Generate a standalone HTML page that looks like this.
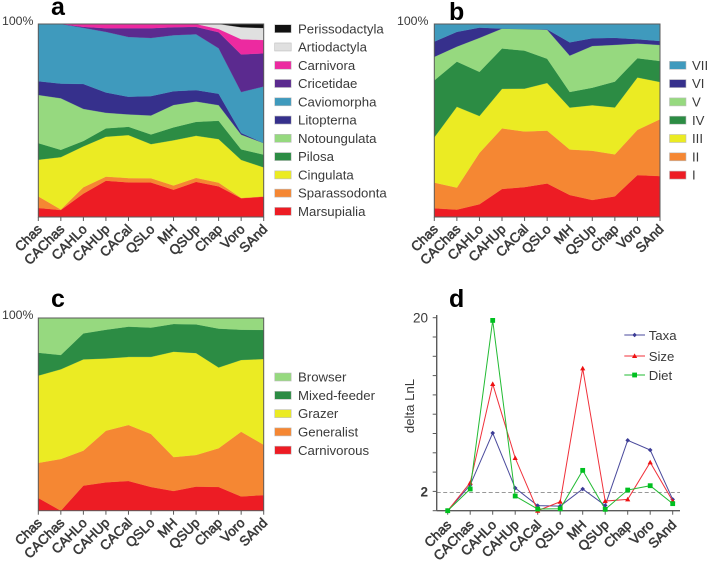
<!DOCTYPE html>
<html lang="en">
<head>
<meta charset="utf-8">
<title>Stacked composition charts and delta LnL</title>
<style>
html,body{margin:0;padding:0;background:#fff;}
body{width:708px;height:562px;overflow:hidden;}
svg{display:block;font-family:"Liberation Sans",sans-serif;}
</style>
</head>
<body>
<svg id="figure" width="708" height="562" viewBox="0 0 708 562" xmlns="http://www.w3.org/2000/svg"></svg>
<script>
const categories = ['Chas','CAChas','CAHLo','CAHUp','CACal','QSLo','MH','QSUp','Chap','Voro','SAnd'];

/* Panel a: taxonomic composition, percent per layer, bottom to top */
const aMarsupialia    = [4.7,3.6,12.1,18.8,17.9,17.8,14.1,18.1,15.9,9.7,10.5];
const aSparassodonta  = [6.0,0.3,3.3,2.1,2.2,2.2,2.2,2.1,1.9,0.2,0.2];
const aCingulata      = [19.0,27.1,21.2,20.7,22.2,17.6,23.4,21.7,22.6,19.7,15.0];
const aPilosa         = [8.6,3.8,2.8,4.3,4.3,5.0,6.7,7.2,9.5,5.5,6.6];
const aNotoungulata   = [25.0,26.7,16.6,8.1,6.4,9.8,11.6,10.5,8.1,7.6,6.0];
const aLitopterna     = [7.1,7.6,12.9,10.5,9.1,10.0,7.1,5.9,5.9,0.9,0];
const aCaviomorpha    = [29.7,30.9,29.1,31.4,30.9,30.0,29.0,28.8,23.6,21.2,29.3];
const aCricetidae     = [0,0,0.5,1.9,4.5,5.0,4.1,3.8,8.3,19.5,17.2];
const aCarnivora      = [0,0,1.5,2.2,2.2,2.2,1.7,1.5,1.7,7.9,6.9];
const aArtiodactyla   = [0,0,0,0,0,0,0,0,2.6,6.2,6.2];
const aPerissodactyla = [0,0,0,0,0,0,0,0,0,1.7,2.1];

/* Panel b: size classes, percent per layer, bottom to top */
const bI   = [4.5,3.8,6.6,14.5,15.5,17.4,11.4,8.8,10.7,21.7,21.2];
const bII  = [13.3,11.4,26.6,31.4,28.8,27.4,23.6,25.5,21.7,23.4,29.5];
const bIII = [23.4,41.9,19.1,20.5,22.2,24.7,21.7,23.6,24.3,27.1,19.3];
const bIV  = [29.5,23.4,22.9,20.9,19.7,12.6,8.1,9.1,13.4,10.0,10.9];
const bV   = [12.2,7.8,17.6,10.3,11.2,15.0,18.8,21.6,19.0,7.6,8.3];
const bVI  = [7.9,7.6,5.3,0,0,0.2,6.9,4.0,3.6,2.2,2.1];
const bVII = [9.1,4.1,1.9,2.4,2.6,2.8,9.5,7.4,7.2,7.9,8.8];

/* Panel c: diet categories, percent per layer, bottom to top */
const cCarnivorous = [6.6,0,13.0,14.7,15.4,12.3,10.2,12.5,12.3,7.4,8.1];
const cGeneralist  = [18.2,26.8,18.2,26.8,29.1,27.5,17.6,16.4,20.1,33.6,26.1];
const cGrazer      = [45.3,46.5,47.4,37.5,35.3,40.0,54.7,52.9,41.9,37.2,44.5];
const cMixedFeeder = [11.9,7.4,13.5,14.9,15.7,15.2,14.4,14.9,20.2,15.7,15.1];
const cBrowser     = [18.0,19.2,8.0,6.1,4.5,5.0,3.1,3.3,5.5,6.1,6.2];

/* Panel d: delta LnL */
const dTaxa = [0,2.66,8.05,2.35,0.52,0.48,2.25,0.55,7.29,6.29,1.17];
const dSize = [0,2.9,13.13,5.46,0,0.93,14.75,1.0,1.17,5.01,1.0];
const dDiet = [0,2.25,19.72,1.52,0.17,0.2,4.18,0.14,2.14,2.59,0.73];
const dTicks = [0,2,4,6,8,10,12,14,16,18,20];
const dLabelledTicks = [2,20];
const dThreshold = 1.9;

const RED='#ed1c24',ORANGE='#f58733',YELLOW='#ebeb23',DGREEN='#2c8c44',LGREEN='#96d97f',
      NAVY='#36308c',BLUE='#3f9abd',PURPLE='#5b2a8f',MAGENTA='#ec2aa0',GREY='#e0e0e0',BLACK='#111111';
const TEXT='#3a3a3a', AXIS='#5a5a5a';
const NS='http://www.w3.org/2000/svg';
const root=document.getElementById('figure');

function make(tag,attrs,parent,text){
  const el=document.createElementNS(NS,tag);
  for(const k in attrs) el.setAttribute(k,attrs[k]);
  if(text!==undefined) el.textContent=text;
  (parent||root).appendChild(el);
  return el;
}
function slug(s){return s.toLowerCase().replace(/[^a-z0-9]+/g,'-');}

function xTickLabels(parent,xFn,yBase,panel,labelDy){
  categories.forEach((c,i)=>{
    const x=xFn(i);
    const tick=make('line',{x1:x,x2:x,y1:yBase,y2:yBase+4,stroke:AXIS,'stroke-width':1},parent);
    
    
    const lx=x+4.5, ly=yBase+labelDy;
    const t=make('text',{x:lx,y:ly,'text-anchor':'end','font-size':13.5,fill:TEXT,stroke:TEXT,'stroke-width':0.55,
      transform:'rotate(-45 '+lx+' '+ly+')'},parent,c);
    
    
  });
}

function legendEntry(parent,panel,label,color,swX,textX,cy){
  const g=make('g',{},parent);
  
  
  const r=make('rect',{x:swX,y:cy-4,width:16.5,height:8,fill:color,stroke:'#bdbdbd','stroke-width':0.6},g);
  
  
  const t=make('text',{x:textX,y:cy+4.6,'font-size':13.2,fill:TEXT},g,label);
  
  
}

function stackedPanel(panel,cfg){
  const g=make('g',{});
  
  
  const n=categories.length;
  const xFn=i=>cfg.x0+(cfg.x1-cfg.x0)*i/(n-1);
  const yFn=p=>cfg.y1-(cfg.y1-cfg.y0)*p/100;
  const totals=categories.map((_,i)=>cfg.series.reduce((s,l)=>s+l.values[i],0));
  const base=categories.map(()=>0);
  cfg.series.forEach(l=>{
    const lower=base.slice();
    l.values.forEach((v,i)=>{base[i]+=v/totals[i]*100;});
    let d='';
    for(let i=0;i<n;i++) d+=(i?'L':'M')+xFn(i).toFixed(2)+' '+yFn(base[i]).toFixed(2);
    for(let i=n-1;i>=0;i--) d+='L'+xFn(i).toFixed(2)+' '+yFn(lower[i]).toFixed(2);
    const a=make('path',{d:d+'Z',fill:l.color,stroke:l.color,'stroke-width':0.2},g);
    
    
  });
  const frame=make('rect',{x:cfg.x0,y:cfg.y0,width:cfg.x1-cfg.x0,height:cfg.y1-cfg.y0,fill:'none',stroke:AXIS,'stroke-width':1},g);
  
  
  xTickLabels(g,xFn,cfg.y1,panel,13);
  const pct=make('text',{x:cfg.pctX,y:cfg.y0+0.8,'font-size':12.3,fill:TEXT},g,'100%');
  
  
  const title=make('text',{x:cfg.titleX,y:cfg.titleY,'font-size':25,'font-weight':'bold',fill:'#000'},g,panel);
  
  
  const reversed=cfg.series.slice().reverse();
  reversed.forEach((l,i)=>{
    legendEntry(g,panel,l.name,l.color,cfg.legendX,cfg.legendTextX,cfg.legendY+i*cfg.legendStep);
  });
}

stackedPanel('a',{x0:38.3,x1:263.7,y0:24,y1:217,pctX:2,titleX:51,titleY:15,
  legendX:274.7,legendTextX:298,legendY:28.7,legendStep:18.27,
  series:[
    {name:'Marsupialia',values:aMarsupialia,color:RED},
    {name:'Sparassodonta',values:aSparassodonta,color:ORANGE},
    {name:'Cingulata',values:aCingulata,color:YELLOW},
    {name:'Pilosa',values:aPilosa,color:DGREEN},
    {name:'Notoungulata',values:aNotoungulata,color:LGREEN},
    {name:'Litopterna',values:aLitopterna,color:NAVY},
    {name:'Caviomorpha',values:aCaviomorpha,color:BLUE},
    {name:'Cricetidae',values:aCricetidae,color:PURPLE},
    {name:'Carnivora',values:aCarnivora,color:MAGENTA},
    {name:'Artiodactyla',values:aArtiodactyla,color:GREY},
    {name:'Perissodactyla',values:aPerissodactyla,color:BLACK}
  ]});

stackedPanel('b',{x0:434.3,x1:660,y0:24,y1:217,pctX:397,titleX:449,titleY:20,
  legendX:669.5,legendTextX:692,legendY:65.3,legendStep:18.3,
  series:[
    {name:'I',values:bI,color:RED},
    {name:'II',values:bII,color:ORANGE},
    {name:'III',values:bIII,color:YELLOW},
    {name:'IV',values:bIV,color:DGREEN},
    {name:'V',values:bV,color:LGREEN},
    {name:'VI',values:bVI,color:NAVY},
    {name:'VII',values:bVII,color:BLUE}
  ]});

stackedPanel('c',{x0:38.3,x1:263.7,y0:318,y1:510.7,pctX:2,titleX:51,titleY:307,
  legendX:274.7,legendTextX:298,legendY:377,legendStep:18.3,
  series:[
    {name:'Carnivorous',values:cCarnivorous,color:RED},
    {name:'Generalist',values:cGeneralist,color:ORANGE},
    {name:'Grazer',values:cGrazer,color:YELLOW},
    {name:'Mixed-feeder',values:cMixedFeeder,color:DGREEN},
    {name:'Browser',values:cBrowser,color:LGREEN}
  ]});

/* Panel d */
(function(){
  const g=make('g',{});
  
  
  const xFn=i=>447.7+22.5*i;
  const yFn=v=>510.7-9.65*v;
  const axisX=436.7, axisEnd=680;

  const dash=make('line',{x1:axisX,x2:axisEnd,y1:yFn(dThreshold),y2:yFn(dThreshold),stroke:'#777','stroke-width':0.8,'stroke-dasharray':'4 2.5'},g);
  
  

  const yAxis=make('line',{x1:axisX,x2:axisX,y1:315,y2:510.7,stroke:AXIS,'stroke-width':1.4},g);
  
  
  const xAxis=make('line',{x1:axisX,x2:axisEnd,y1:510.7,y2:510.7,stroke:AXIS,'stroke-width':1.4},g);
  
  

  dTicks.forEach(v=>{
    const t=make('line',{x1:axisX-4,x2:axisX,y1:yFn(v),y2:yFn(v),stroke:AXIS,'stroke-width':1},g);
    
    
  });
  dLabelledTicks.forEach(v=>{
    const l=make('text',{x:428,y:yFn(v)+5,'text-anchor':'end','font-size':13.5,fill:TEXT,'font-weight':v===2?'bold':'normal'},g,String(v));
    
    
  });
  const yTitle=make('text',{x:0,y:0,'text-anchor':'middle','font-size':13.2,fill:TEXT,transform:'translate(414 406) rotate(-90)'},g,'delta LnL');
  
  

  xTickLabels(g,xFn,510.7,'d',15);

  function marker(parent,shape,x,y,color){
    if(shape==='diamond') return make('path',{d:`M${x} ${y-2.3}L${x+2.3} ${y}L${x} ${y+2.3}L${x-2.3} ${y}Z`,fill:color},parent);
    if(shape==='triangle') return make('path',{d:`M${x} ${y-2.6}L${x+2.6} ${y+2}L${x-2.6} ${y+2}Z`,fill:color},parent);
    return make('rect',{x:x-2.4,y:y-2.4,width:4.8,height:4.8,fill:color},parent);
  }
  const series=[
    {name:'Taxa',values:dTaxa,line:'#4a4a9c',mark:'#3c3c96',shape:'diamond',ly:335},
    {name:'Size',values:dSize,line:'#f0303a',mark:'#ee1111',shape:'triangle',ly:356},
    {name:'Diet',values:dDiet,line:'#22bb33',mark:'#00c020',shape:'square',ly:375}
  ];
  series.forEach(s=>{
    const sg=make('g',{},g);
    
    
    const pts=s.values.map((v,i)=>xFn(i).toFixed(2)+','+yFn(v).toFixed(2)).join(' ');
    const pl=make('polyline',{points:pts,fill:'none',stroke:s.line,'stroke-width':1},sg);
    
    
    s.values.forEach((v,i)=>{
      const m=marker(sg,s.shape,xFn(i),yFn(v),s.mark);
      
      
    });
    const lg=make('g',{},g);
    
    
    const ll=make('line',{x1:624.3,x2:645,y1:s.ly,y2:s.ly,stroke:s.line,'stroke-width':1},lg);
    
    
    const lm=marker(lg,s.shape,634.6,s.ly,s.mark);
    
    
    const lt=make('text',{x:648.7,y:s.ly+4.8,'font-size':13.2,fill:TEXT},lg,s.name);
    
    
  });
  const title=make('text',{x:449,y:307,'font-size':25,'font-weight':'bold',fill:'#000'},g,'d');
  
  
})();
</script>
</body>
</html>
